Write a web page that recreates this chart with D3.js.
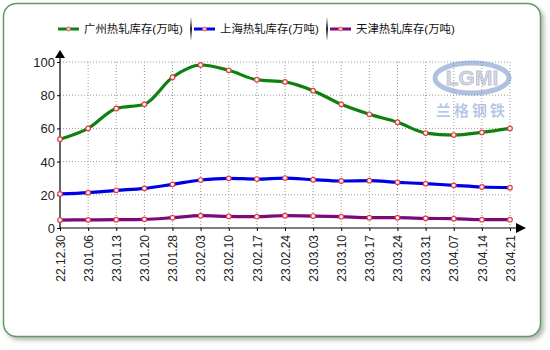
<!DOCTYPE html>
<html>
<head>
<meta charset="utf-8">
<script src="https://cdn.jsdelivr.net/npm/d3@7"></script>
<style>
body { margin: 0; background: #fff; }
text { font-family: "Liberation Sans", Arial, "Noto Sans CJK SC", sans-serif; }
</style>
</head>
<body>
<script>
var dates = ["22.12.30","23.01.06","23.01.13","23.01.20","23.01.28","23.02.03","23.02.10","23.02.17","23.02.24",
  "23.03.03","23.03.10","23.03.17","23.03.24","23.03.31","23.04.07","23.04.14","23.04.21"];
var guangzhou = [53.5, 60, 72, 74.5, 90.8, 98.2, 95, 89.3, 88, 82.7, 74.5, 68.5, 63.7, 57.2, 56, 57.6, 60];
var shanghai = [20.5, 21.3, 22.7, 23.9, 26.3, 28.9, 29.9, 29.5, 30.1, 29.1, 28.3, 28.5, 27.5, 26.7, 25.7, 24.7, 24.3];
var tianjin = [4.8, 4.9, 5, 5.2, 6.2, 7.4, 7, 6.8, 7.4, 7.2, 6.8, 6.2, 6.2, 5.8, 5.6, 5, 5];
var seriesNames = ["广州热轧库存(万吨)", "上海热轧库存(万吨)", "天津热轧库存(万吨)"];
var seriesColors = ["#0d800d", "#0000e6", "#7a0a7a"];
var yTicks = [0, 20, 40, 60, 80, 100];

var series = [guangzhou, shanghai, tianjin];

var svg = d3.select("body").append("svg")
    .attr("width", 550)
    .attr("height", 350);

var defs = svg.append("defs");
var f = defs.append("filter").attr("id", "shadow").attr("x", "-5%").attr("y", "-5%").attr("width", "115%").attr("height", "115%");
f.append("feDropShadow").attr("dx", 3).attr("dy", 3).attr("stdDeviation", 2).attr("flood-color", "#888").attr("flood-opacity", 0.6);
var sep = defs.append("linearGradient").attr("id", "sep").attr("x1", 0).attr("y1", 0).attr("x2", 0).attr("y2", 1);
sep.append("stop").attr("offset", "0%").attr("stop-color", "#fff");
sep.append("stop").attr("offset", "50%").attr("stop-color", "#222");
sep.append("stop").attr("offset", "100%").attr("stop-color", "#fff");

// frame
svg.append("rect")
    .attr("x", 3.5).attr("y", 3.5)
    .attr("width", 537).attr("height", 333)
    .attr("rx", 13).attr("ry", 13)
    .attr("fill", "#fff")
    .attr("stroke", "#5d9e5d")
    .attr("stroke-width", 1.5)
    .attr("filter", "url(#shadow)");

var x = d3.scalePoint()
    .domain(dates)
    .range([60, 510]);

var y = d3.scaleLinear()
    .domain([0, 100])
    .range([228, 62]);

// grid
svg.append("g").selectAll("line.vg")
    .data(dates.slice(1))
    .enter().append("line")
    .attr("class", "vg")
    .attr("x1", function(d){return x(d);})
    .attr("x2", function(d){return x(d);})
    .attr("y1", y(100))
    .attr("y2", y(0))
    .attr("stroke", "#999")
    .attr("stroke-dasharray", "1,2");

svg.append("g").selectAll("line.hg")
    .data(yTicks.slice(1))
    .enter().append("line")
    .attr("class", "hg")
    .attr("x1", x(dates[0]))
    .attr("x2", x(dates[dates.length - 1]))
    .attr("y1", function(d){return y(d);})
    .attr("y2", function(d){return y(d);})
    .attr("stroke", "#999")
    .attr("stroke-dasharray", "1,2");

// watermark
var wm = svg.append("g").attr("opacity", 0.55);
wm.append("ellipse").attr("cx", 472).attr("cy", 78).attr("rx", 37).attr("ry", 15)
    .attr("fill", "none").attr("stroke", "#6f8fc8").attr("stroke-width", 5);
wm.append("text").attr("x", 472).attr("y", 85).attr("text-anchor", "middle")
    .attr("font-size", 21).attr("font-weight", "bold").attr("fill", "#b8b8c8")
    .attr("stroke", "#7f8fb0").attr("stroke-width", 0.8)
    .text("LGMI");
wm.append("text").attr("x", 472).attr("y", 116).attr("text-anchor", "middle")
    .attr("font-size", 15).attr("font-weight", "bold").attr("fill", "#7c9cd0")
    .attr("letter-spacing", 3)
    .attr("font-family", "Noto Sans CJK SC")
    .text("兰格钢铁");

// axes
var yAxis = d3.axisLeft(y).tickValues(yTicks).tickSize(3).tickPadding(2);
var yg = svg.append("g").attr("transform", "translate(60,0)").call(yAxis);
yg.select(".domain").remove();
yg.selectAll("text").attr("font-size", 13).attr("fill", "#222").attr("dy", "0.35em");

svg.append("line").attr("x1", 60).attr("x2", 60).attr("y1", 56).attr("y2", 228.5)
    .attr("stroke", "#000").attr("stroke-width", 1.2);
svg.append("path").attr("d", "M60,50 L65,58 L55,58 Z").attr("fill", "#000");

var xAxis = d3.axisBottom(x).tickSize(3).tickPadding(4);
var xg = svg.append("g").attr("transform", "translate(0,228)").call(xAxis);
xg.select(".domain").remove();
xg.selectAll("text")
    .attr("font-size", 12)
    .attr("fill", "#222")
    .attr("transform", "rotate(-90)")
    .attr("text-anchor", "end")
    .attr("x", -7)
    .attr("y", 0)
    .attr("dy", "0.35em");

svg.append("line").attr("x1", 60).attr("x2", 518).attr("y1", 228).attr("y2", 228)
    .attr("stroke", "#000").attr("stroke-width", 1.2);
svg.append("path").attr("d", "M526,228 L516,223 L516,233 Z").attr("fill", "#000");

// lines
var line = d3.line()
    .x(function(d, i){return x(dates[i]);})
    .y(function(d){return y(d);})
    .curve(d3.curveMonotoneX);

svg.selectAll("path.series")
    .data(series)
    .enter().append("path")
    .attr("class", "series")
    .attr("d", line)
    .attr("fill", "none")
    .attr("stroke", function(d, i){return seriesColors[i];})
    .attr("stroke-width", 3.2)
    .attr("stroke-linejoin", "round");

series.forEach(function(s) {
  svg.append("g").selectAll("circle")
      .data(s)
      .enter().append("circle")
      .attr("cx", function(d, i){return x(dates[i]);})
      .attr("cy", function(d){return y(d);})
      .attr("r", 2.3)
      .attr("fill", "#fff0f4")
      .attr("stroke", "#e0404a")
      .attr("stroke-width", 1.2);
});

// legend
var legendX = [58, 194, 330];
var lg = svg.append("g").selectAll("g")
    .data(seriesNames)
    .enter().append("g")
    .attr("transform", function(d, i){return "translate(" + legendX[i] + ",29)";});
lg.append("line")
    .attr("x1", 0).attr("x2", 21).attr("y1", 0).attr("y2", 0)
    .attr("stroke", function(d, i){return seriesColors[i];})
    .attr("stroke-width", 3);
lg.append("circle").attr("cx", 10.5).attr("cy", 0).attr("r", 2)
    .attr("fill", "#fbb").attr("stroke", "#e05050").attr("stroke-width", 0.8);
lg.append("text")
    .attr("x", 26).attr("y", 0).attr("dy", "0.36em")
    .attr("font-size", 11.4)
    .attr("fill", "#111")
    .text(function(d){return d;});
[191, 327].forEach(function(sx) {
  svg.append("rect").attr("x", sx - 1).attr("y", 17).attr("width", 2).attr("height", 24).attr("fill", "url(#sep)");
});
</script>
</body>
</html>
